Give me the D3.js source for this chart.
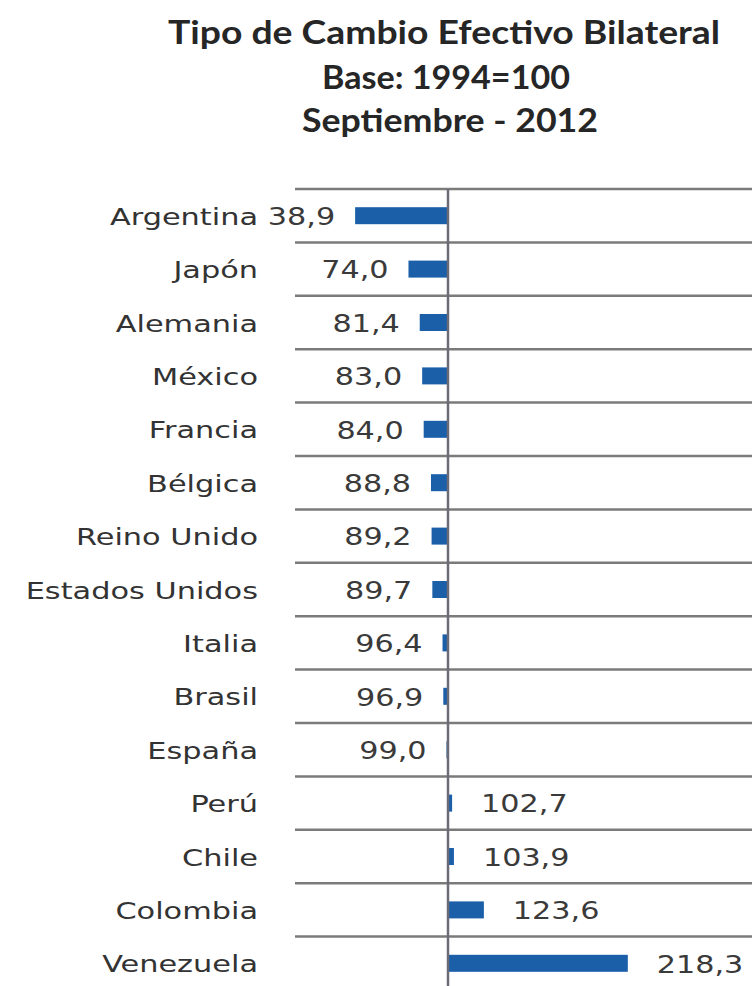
<!DOCTYPE html>
<html>
<head>
<meta charset="utf-8">
<script src="https://cdn.jsdelivr.net/npm/d3@7"></script>
<style>
  body { margin: 0; background: #ffffff; }
  svg { display: block; }
</style>
</head>
<body>
<svg id="chart"></svg>
<script>
var width = 752;
var height = 986;

// data
var titles = ["Tipo de Cambio Efectivo Bilateral", "Base: 1994=100", "Septiembre - 2012"];
var countries = ["Argentina", "Japón", "Alemania", "México", "Francia", "Bélgica", "Reino Unido",
                 "Estados Unidos", "Italia", "Brasil", "España", "Perú", "Chile", "Colombia", "Venezuela"];
var values = [38.9, 74.0, 81.4, 83.0, 84.0, 88.8, 89.2, 89.7, 96.4, 96.9, 99.0, 102.7, 103.9, 123.6, 218.3];
var baseValue = 100;

var svg = d3.select("#chart").attr("width", width).attr("height", height);
svg.append("rect").attr("width", width).attr("height", height).attr("fill", "#ffffff");

// title
var titleWidths = [552, 248, 296];
var titleBase = [44, 89, 132];
var titleX = [444, 446, 450];
svg.append("g").selectAll("text")
    .data(titles)
    .enter().append("text")
    .attr("x", function(d, i) { return titleX[i]; })
    .attr("y", function(d, i) { return titleBase[i]; })
    .attr("text-anchor", "middle")
    .attr("font-family", "Lato, 'Open Sans', sans-serif")
    .attr("font-weight", "bold")
    .attr("font-size", 32)
    .attr("fill", "#262626")
    .attr("textLength", function(d, i) { return titleWidths[i]; })
    .attr("lengthAdjust", "spacingAndGlyphs")
    .text(function(d) { return d; });

// scales
var x = d3.scaleLinear().domain([0, 300]).range([296, 752]);
var y = d3.scaleBand().domain(countries).range([189, 189 + 15 * 53.4]).padding(0);
var barH = 17;

var plot = svg.append("g");

// horizontal rules between rows
var rules = y.domain().map(function(d) { return y(d); });
rules.push(y.range()[1]);
plot.append("g").selectAll("line")
    .data(rules)
    .enter().append("line")
    .attr("x1", x(0) - 1)
    .attr("x2", width)
    .attr("y1", function(d) { return d; })
    .attr("y2", function(d) { return d; })
    .attr("stroke", "#7b7b7b")
    .attr("stroke-width", 2.5);

// bars from the base value
plot.append("g").selectAll("rect")
    .data(values)
    .enter().append("rect")
    .attr("x", function(d) { return x(Math.min(d, baseValue)); })
    .attr("width", function(d) { return Math.abs(x(d) - x(baseValue)); })
    .attr("y", function(d, i) { return y(countries[i]) + y.bandwidth() / 2 - barH / 2; })
    .attr("height", barH)
    .attr("fill", "#1b5fa8");

// base line at 100
plot.append("line")
    .attr("x1", x(baseValue)).attr("x2", x(baseValue))
    .attr("y1", y.range()[0]).attr("y2", height)
    .attr("stroke", "#6c6c78")
    .attr("stroke-width", 2.5);

// country labels (text is stretched wide in the original)
var cat = svg.append("g").selectAll("g")
    .data(countries)
    .enter().append("g")
    .attr("transform", function(d) {
        return "translate(258," + (y(d) + y.bandwidth() / 2 + 1) + ") scale(1.32,1)";
    });
cat.append("text")
    .attr("text-anchor", "end")
    .attr("dominant-baseline", "central")
    .attr("font-family", "'DejaVu Sans', Verdana, sans-serif")
    .attr("font-size", 23)
    .attr("fill", "#333333")
    .text(function(d) { return d; });

// value labels
var fmt = function(v) { return v.toFixed(1).replace(".", ","); };
var val = svg.append("g").selectAll("g")
    .data(values)
    .enter().append("g")
    .attr("transform", function(d, i) {
        var px = d < baseValue ? x(d) - 20 : x(d) + 29;
        return "translate(" + px + "," + (y(countries[i]) + y.bandwidth() / 2 + 1) + ") scale(1.26,1)";
    });
val.append("text")
    .attr("text-anchor", function(d) { return d < baseValue ? "end" : "start"; })
    .attr("dominant-baseline", "central")
    .attr("font-family", "'DejaVu Sans', Verdana, sans-serif")
    .attr("font-size", 24)
    .attr("fill", "#3a3a3a")
    .text(function(d) { return fmt(d); });
</script>
</body>
</html>
